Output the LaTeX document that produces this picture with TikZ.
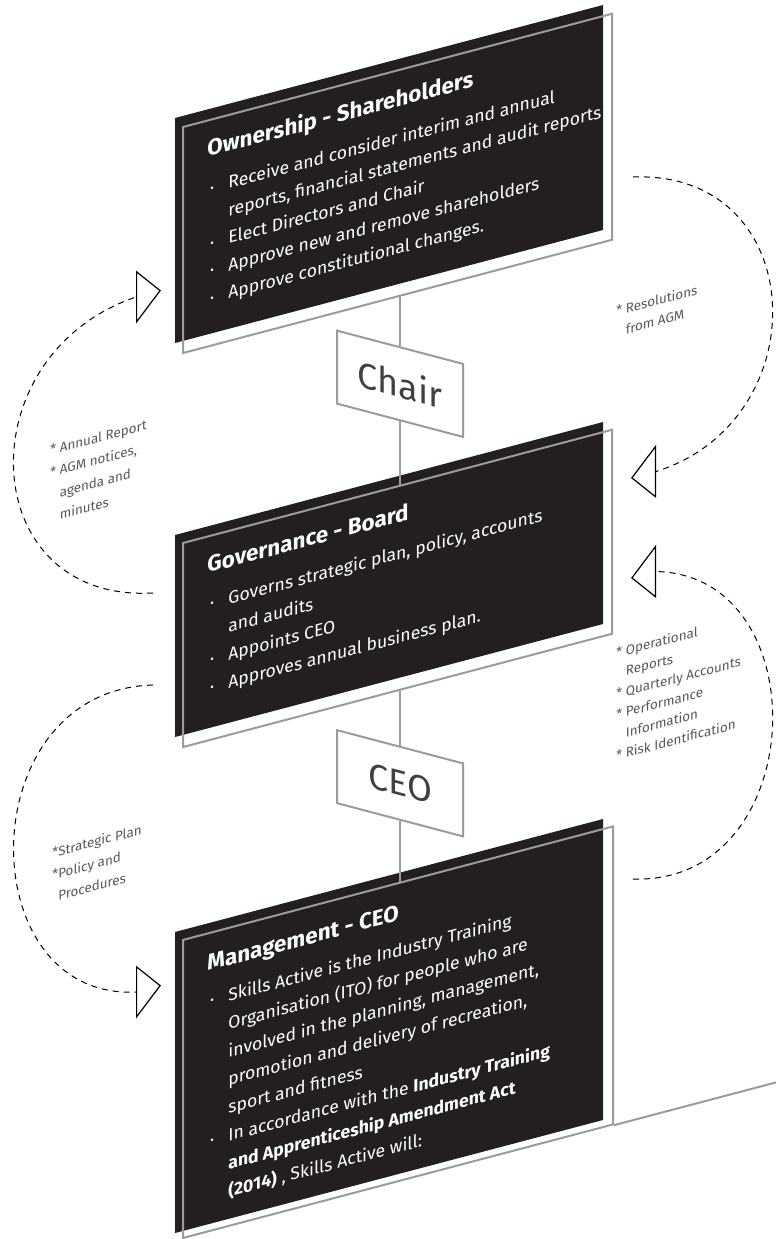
\documentclass[tikz,border=0pt]{standalone}
\usepackage{fontspec}
\setmainfont{Fira Sans}
\usepackage{tikz}
\usetikzlibrary{shapes.geometric, calc}
\definecolor{panelblack}{HTML}{231F20}
\definecolor{framegray}{HTML}{9B9B9B}
\definecolor{notegray}{HTML}{58595B}

\newcommand{\dotitem}{\makebox[10.5pt][l]{\hspace*{1.5pt}\raisebox{0.6pt}{\fontsize{5.5}{5.5}\selectfont •}}}
\newcommand{\itemgap}{\hspace*{10.5pt}}
\newcommand{\panetitle}[1]{{\fontsize{11.2}{11.2}\selectfont\bfseries #1}}
% stacked lines, first baseline = node baseline
\newcommand{\lines}[2]{\vtop{\baselineskip=#1\relax\lineskiplimit=-\maxdimen\halign{##\hfil\cr#2\crcr}}}

\begin{document}
\begin{tikzpicture}[
        x=0.5pt, y=-0.5pt,
        upslant/.style={yslant=0.264, transform shape},
        downslant/.style={yslant=-0.264, transform shape},
        panel/.style={upslant, fill=panelblack, minimum width=214pt, inner sep=0pt},
        panelframe/.style={upslant, draw=framegray, line width=1pt, minimum width=214.5pt, inner sep=0pt},
        panetext/.style={upslant, text=white, inner sep=0pt, anchor=base west, font=\fontsize{8.8}{13.75}\selectfont},
        rolebox/.style={downslant, draw=framegray, line width=1pt, fill=white, minimum width=63pt, minimum height=36.5pt, inner sep=0pt, text=black!75, font=\fontsize{18}{18}\selectfont},
        rolelink/.style={draw=framegray, line width=1pt},
        sidenote/.style={upslant, text=notegray, inner sep=0pt, anchor=base west, font=\fontsize{6.7}{10.5}\selectfont},
        feedback/.style={dash pattern=on 3pt off 2.5pt, line width=0.5pt},
        flowtip/.style={upslant, draw, line width=0.6pt, fill=white, isosceles triangle, isosceles triangle stretches, minimum width=25pt, minimum height=11.75pt, inner sep=0pt}
        ]
        \useasboundingbox (0,0) rectangle (776,1239);

        % Ownership
        \node[panel, minimum height=112.5pt] (own) at (389,174) {};
        \node[panelframe, minimum height=113pt] (ownframe) at (397.5,183.4) {};
        \node[panetext] (owntext) at (207,157) {\lines{13.75pt}{\panetitle{Ownership - Shareholders}\cr\noalign{\vskip5pt}
            \dotitem Receive and consider interim and annual\cr
            \itemgap reports, financial statements and audit reports\cr
            \dotitem Elect Directors and Chair\cr
            \dotitem Approve new and remove shareholders\cr
            \dotitem Approve constitutional changes.}};

        % Chair
        \node[rolebox] (chair) at (400,383.75) {Chair};
        \draw[rolelink] (ownframe.south -| chair.north) -- (chair.north);

        % Governance
        \node[panel, minimum height=101pt] (gov) at (389,579.5) {};
        \node[panelframe, minimum height=102pt] (govframe) at (397.5,588.4) {};
        \draw[rolelink] (chair.south) -- (chair.south |- govframe.north);
        \node[panetext] (govtext) at (207,573) {\lines{14pt}{\panetitle{Governance - Board}\cr\noalign{\vskip4.5pt}
            \dotitem Governs strategic plan, policy, accounts\cr
            \itemgap and audits\cr
            \dotitem Appoints CEO\cr
            \dotitem Approves annual business plan.}};

        % CEO
        \node[rolebox] (ceo) at (400,783.25) {CEO};
        \draw[rolelink] (govframe.south -| ceo.north) -- (ceo.north);

        % Management
        \node[panel, minimum height=150.5pt] (mgmt) at (389,1026) {};
        \node[panelframe, minimum width=215pt, minimum height=149pt] (mgmtframe) at (398,1032.2) {};
        \draw[rolelink] (ceo.south) -- (ceo.south |- mgmtframe.north);
        \draw[rolelink] (mgmtframe.south east) -- ($(mgmtframe.south west)!1.4!(mgmtframe.south east)$);
        \node[panetext] (mgmttext) at (207,971) {\lines{14pt}{\panetitle{Management - CEO}\cr\noalign{\vskip4pt}
            \dotitem Skills Active is the Industry Training\cr
            \itemgap Organisation (ITO) for people who are\cr
            \itemgap involved in the planning, management,\cr
            \itemgap promotion and delivery of recreation,\cr
            \itemgap sport and fitness\cr
            \dotitem In accordance with the \textbf{Industry Training}\cr
            \itemgap \textbf{and Apprenticeship Amendment Act}\cr
            \itemgap \textbf{(2014)} , Skills Active will:}};

        % Feedback arrows
        \node[flowtip, anchor=west] (toown) at (136,297) {};
        \node[flowtip, shape border rotate=180, anchor=east] (togov) at (656,471.5) {};
        \node[flowtip, shape border rotate=180, anchor=east] (toboard) at (656,571.5) {};
        \node[flowtip, anchor=west] (tomgmt) at (136,992) {};
        \coordinate (reportfrom) at (153,593);
        \coordinate (agmfrom) at (633,177);
        \coordinate (opsfrom) at (633,879);
        \coordinate (planfrom) at (153,685);
        \draw[feedback] (reportfrom) .. controls (-25,603) and (-35,355) .. (toown.west);
        \draw[feedback] (agmfrom) .. controls (810,170) and (820,420) .. (togov.east);
        \draw[feedback] (opsfrom) .. controls (810,885) and (820,575) .. (toboard.east);
        \draw[feedback] (planfrom) .. controls (-30,690) and (-30,1000) .. (tomgmt.west);

        % Notes
        \node[sidenote] (annualnote) at (50,455) {\lines{11.2pt}{* Annual Report\cr * AGM notices,\cr \hphantom{* }agenda and\cr \hphantom{* }minutes}};
        \node[sidenote] (agmnote) at (616,316) {\lines{10.5pt}{* Resolutions\cr \hphantom{* }from AGM}};
        \node[sidenote] (opsnote) at (616,658) {\lines{10.25pt}{* Operational\cr \hphantom{* }Reports\cr * Quarterly Accounts\cr * Performance\cr \hphantom{* }Information\cr * Risk Identification}};
        \node[sidenote] (plannote) at (52,858) {\lines{11pt}{*Strategic Plan\cr *Policy and\cr \hphantom{*}Procedures}};
\end{tikzpicture}
\end{document}
